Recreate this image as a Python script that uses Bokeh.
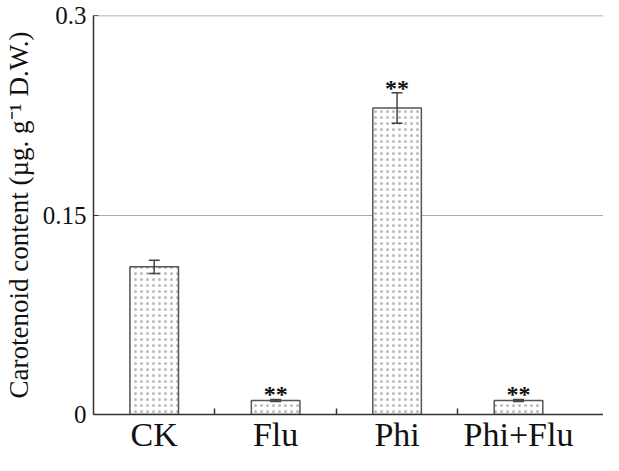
from bokeh.plotting import figure
from bokeh.models import ColumnDataSource, FixedTicker, Whisker, Range1d, Span
from bokeh.core.properties import value
from bokeh.embed import file_html
from bokeh.resources import INLINE

categories = ["CK", "Flu", "Phi", "Phi+Flu"]
values = [0.111, 0.0105, 0.2305, 0.0105]
errors = [0.005, 0.0008, 0.0115, 0.0008]
marks = ["", "**", "**", "**"]
y_ticks = [0, 0.15, 0.3]
y_tick_labels = {0: "0", 0.15: "0.15", 0.3: "0.3"}

xs = [i + 0.5 for i in range(len(categories))]
src = ColumnDataSource(dict(
    x=xs, top=values,
    upper=[v + e for v, e in zip(values, errors)],
    lower=[v - e for v, e in zip(values, errors)],
    mark=marks,
))

p = figure(width=603, height=455, output_backend="svg", toolbar_location=None,
           x_range=Range1d(0, 4.2), y_range=Range1d(0, 0.3),
           min_border_left=91, min_border_right=0, min_border_top=15, min_border_bottom=40)
p.outline_line_color = None
p.background_fill_color = "white"

p.vbar(x="x", top="top", bottom=0, width=0.4, source=src,
       fill_color="white", line_color="#555555", line_width=1.5,
       hatch_pattern="dot", hatch_color="#bbbbbb", hatch_scale=6, hatch_weight=1)

w = Whisker(base="x", upper="upper", lower="lower", source=src,
            line_color="#444444", line_width=1.5, level="overlay")
for h in (w.upper_head, w.lower_head):
    h.size = 11
    h.line_color = "#444444"
    h.line_width = 1.5
p.add_layout(w)

p.text(x="x", y="upper", text="mark", source=src, text_align="center",
       text_baseline="middle", y_offset=-5,
       text_font=value("Liberation Serif"), text_font_size="24px",
       text_font_style="bold", text_color="#111111")

p.add_layout(Span(location=y_ticks[-1], dimension="width", line_color="#999999",
                  line_width=1.5))

# x axis
p.xaxis.ticker = FixedTicker(ticks=xs, minor_ticks=[1, 2, 3])
p.xaxis.major_label_overrides = {x: c for x, c in zip(xs, categories)}
p.xaxis.major_tick_in = 0
p.xaxis.major_tick_out = 0
p.xaxis.minor_tick_in = 6
p.xaxis.minor_tick_out = 0
p.xaxis.minor_tick_line_color = "#333333"
p.xaxis.minor_tick_line_width = 1.5
p.xaxis.axis_line_color = "#333333"
p.xaxis.axis_line_width = 1.5
p.xaxis.major_label_text_font = "Liberation Serif"
p.xaxis.major_label_text_font_size = "34px"
p.xaxis.major_label_text_color = "#111111"
p.xaxis.major_label_standoff = 1

# y axis
p.yaxis.ticker = FixedTicker(ticks=y_ticks, minor_ticks=[])
p.yaxis.major_label_overrides = y_tick_labels
p.yaxis.major_tick_in = 5
p.yaxis.major_tick_out = 0
p.yaxis.major_tick_line_color = "#333333"
p.yaxis.axis_line_color = "#333333"
p.yaxis.axis_line_width = 1.5
p.yaxis.major_label_text_font = "Liberation Serif"
p.yaxis.major_label_text_font_size = "25px"
p.yaxis.major_label_text_color = "#111111"
p.yaxis.major_label_standoff = 7
p.yaxis.axis_label = "Carotenoid content (µg. g⁻¹ D.W.)"
p.yaxis.axis_label_text_font = "Liberation Serif"
p.yaxis.axis_label_text_font_size = "27px"
p.yaxis.axis_label_text_font_style = "normal"
p.yaxis.axis_label_text_color = "#111111"
p.yaxis.axis_label_standoff = 6

p.xgrid.grid_line_color = None
p.ygrid.grid_line_color = "#aaaaaa"
p.ygrid.grid_line_width = 1

open("out.html", "w").write(file_html(p, INLINE))
